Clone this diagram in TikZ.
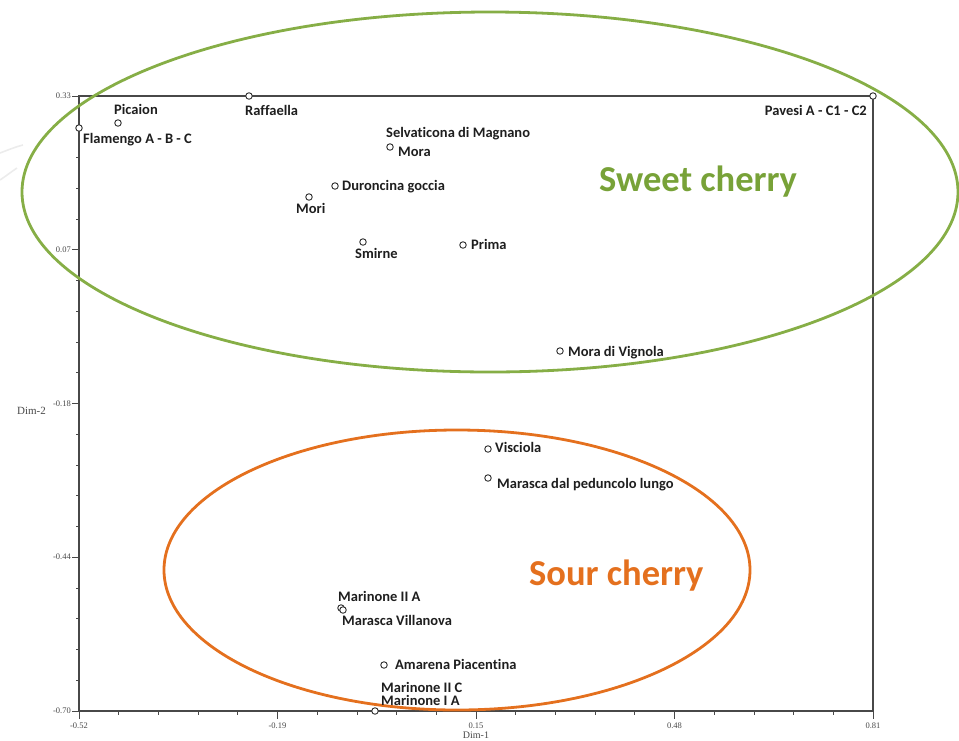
\documentclass[tikz,border=0pt]{standalone}
\usepackage{fontspec}
\setmainfont{Carlito}[Ligatures=NoCommon]
\newfontfamily\tickfont{Liberation Serif}
\definecolor{sweetgreen}{RGB}{134,174,70}
\definecolor{sweettext}{RGB}{120,162,56}
\definecolor{sourorange}{RGB}{228,112,30}
\definecolor{axisgray}{RGB}{72,72,72}
\definecolor{ptgray}{RGB}{45,45,45}
\definecolor{labgray}{RGB}{30,30,30}
\definecolor{faint}{RGB}{236,236,236}
\begin{document}
\begin{tikzpicture}[x=1pt,y=-1pt,
  ptc/.style={circle,draw=ptgray,fill=white,line width=0.9pt,inner sep=0pt,minimum size=6.5pt},
  lab/.style={anchor=base west,inner sep=0pt,font=\fontsize{14.5}{16}\selectfont\bfseries,text=labgray},
  labr/.style={lab,anchor=base east},
  ticklab/.style={inner sep=0pt,font=\tickfont\fontsize{8.5}{9}\selectfont,text=axisgray},
  axisline/.style={draw=axisgray,line width=1.1pt},
  group/.style={line width=2.8pt},
  grouptext/.style={anchor=base west,inner sep=0pt,font=\fontsize{36.5}{40}\selectfont\bfseries}]
\useasboundingbox (0,0) rectangle (959,740);
% faint background arcs
\draw[faint,line width=1.6pt] (0,153) .. controls (8,150) and (15,147) .. (23,145);
\draw[faint,line width=1.6pt] (0,180) .. controls (6,176) and (11,172) .. (17,168);
% frame
\draw[axisline] (79,96) rectangle (873,711);
% y ticks
\foreach \i in {0,...,20}{
  \pgfmathsetmacro{\yy}{96+\i*30.75}
  \draw[axisgray,line width=0.8pt] (79,\yy) -- (76,\yy);
}
\foreach \i in {0,...,4}{
  \pgfmathsetmacro{\yy}{96+\i*153.75}
  \draw[axisgray,line width=0.8pt] (79,\yy) -- (72,\yy);
}
% x ticks
\foreach \i in {0,...,20}{
  \pgfmathsetmacro{\xx}{79+\i*39.7}
  \draw[axisgray,line width=0.8pt] (\xx,711) -- (\xx,715);
}
\foreach \i in {0,...,4}{
  \pgfmathsetmacro{\xx}{79+\i*198.5}
  \draw[axisgray,line width=0.8pt] (\xx,711) -- (\xx,719);
}
% tick labels
\node[ticklab,anchor=east] (ty1) at (71,96) {0.33};
\node[ticklab,anchor=east] (ty2) at (71,250) {0.07};
\node[ticklab,anchor=east] (ty3) at (71,403.5) {-0.18};
\node[ticklab,anchor=east] (ty4) at (71,557) {-0.44};
\node[ticklab,anchor=east] (ty5) at (71,711) {-0.70};
\node[ticklab] (tx1) at (79,726) {-0.52};
\node[ticklab] (tx2) at (277.5,726) {-0.19};
\node[ticklab] (tx3) at (476,726) {0.15};
\node[ticklab] (tx4) at (674.5,726) {0.48};
\node[ticklab] (tx5) at (873,726) {0.81};
\node[ticklab,font=\tickfont\fontsize{11}{12}\selectfont,anchor=east] (dim2) at (46,411) {Dim-2};
\node[ticklab,font=\tickfont\fontsize{10}{11}\selectfont] (dim1) at (476,735) {Dim-1};
% group ellipses
\draw[group,sweetgreen] (490,192) ellipse [x radius=468, y radius=180];
\draw[group,sourorange] (457,570) ellipse [x radius=293, y radius=140];
\node[grouptext,text=sweettext] (sweet) at (599,191) {Sweet cherry};
\node[grouptext,text=sourorange] (sour) at (529,585) {Sour cherry};
% points
\node[ptc] (raf) at (249,96) {};
\node[ptc] (pav) at (873,96) {};
\node[ptc] (fla) at (79,128) {};
\node[ptc] (pic) at (118,123) {};
\node[ptc] (sel) at (390,147) {};
\node[ptc] (dur) at (335,186) {};
\node[ptc] (mori) at (309,197) {};
\node[ptc] (smi) at (363,242) {};
\node[ptc] (pri) at (463,245) {};
\node[ptc] (mvi) at (560,351) {};
\node[ptc] (vis) at (488,449) {};
\node[ptc] (mdp) at (488,478) {};
\node[ptc] (m2a) at (341,608) {};
\node[ptc] (mva) at (343,610) {};
\node[ptc] (ama) at (384,665) {};
\node[ptc] (m2c) at (375,711) {};
% labels
\node[lab] (lpic) at (114,114.5) {Picaion};
\node[lab] (lraf) at (245,115.5) {Raffaella};
\node[labr] (lpav) at (867,115.5) {Pavesi A - C1 - C2};
\node[lab] (lfla) at (83,143.5) {Flamengo A - B - C};
\node[lab] (lsel) at (386,137.5) {Selvaticona di Magnano};
\node[lab] (lmora) at (398,156.5) {Mora};
\node[lab] (ldur) at (342,190.5) {Duroncina goccia};
\node[lab] (lmori) at (296,213.5) {Mori};
\node[lab] (lsmi) at (355,258.5) {Smirne};
\node[lab] (lpri) at (471,249.5) {Prima};
\node[lab] (lmvi) at (568,356.5) {Mora di Vignola};
\node[lab] (lvis) at (495,452.5) {Visciola};
\node[lab] (lmdp) at (497,488.5) {Marasca dal peduncolo lungo};
\node[lab] (lm2a) at (338,601.5) {Marinone II A};
\node[lab] (lmva) at (342,625.5) {Marasca Villanova};
\node[lab] (lama) at (395,669.5) {Amarena Piacentina};
\node[lab] (lm2c) at (381,692.5) {Marinone II C};
\node[lab] (lm1a) at (381,705.5) {Marinone I A};
\end{tikzpicture}
\end{document}
